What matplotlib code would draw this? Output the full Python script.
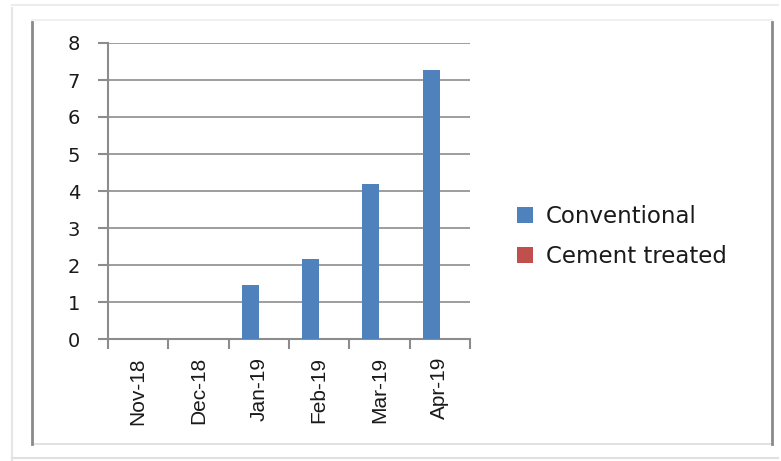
import matplotlib.pyplot as plt
import numpy as np
from matplotlib.lines import Line2D

months = ["Nov-18", "Dec-18", "Jan-19", "Feb-19", "Mar-19", "Apr-19"]
conventional = [0, 0, 1.45, 2.17, 4.2, 7.27]
cement_treated = [0, 0, 0, 0, 0, 0]

W, H = 781, 461
fig = plt.figure(figsize=(W / 100, H / 100), dpi=100)
plt.rcParams["font.family"] = ["DejaVu Sans"]


def px(x0, y0, x1, y1):
    return [x0 / W, 1 - y1 / H, (x1 - x0) / W, (y1 - y0) / H]


# frame around the chart (inner with darker sides, faint outer)
fig.add_artist(Line2D([12 / W, 12 / W], [1 - 8 / H, 1 - 460 / H], color="#e6e6e6", lw=1.5))
fig.add_artist(Line2D([12 / W, 778 / W], [1 - 5 / H, 1 - 5 / H], color="#ececec", lw=1.5))
fig.add_artist(Line2D([12 / W, 778 / W], [1 - 458 / H, 1 - 458 / H], color="#e0e0e0", lw=1.5))
fig.add_artist(Line2D([32 / W, 772 / W], [1 - 20 / H, 1 - 20 / H], color="#ececec", lw=1.2))
fig.add_artist(Line2D([32 / W, 772 / W], [1 - 444 / H, 1 - 444 / H], color="#dcdcdc", lw=1.2))
fig.add_artist(Line2D([32 / W, 32 / W], [1 - 22 / H, 1 - 444 / H], color="#8a8a8a", lw=2))
fig.add_artist(Line2D([772 / W, 772 / W], [1 - 22 / H, 1 - 444 / H], color="#8a8a8a", lw=2))

ax = fig.add_axes(px(108, 43, 470, 339))
x = np.arange(len(months))
bw = 1 / 3.5
ax.bar(x - bw / 2, conventional, bw, color="#4f81bd", label="Conventional", zorder=3)
ax.bar(x + bw / 2, cement_treated, bw, color="#c0504d", label="Cement treated", zorder=3)

ax.set_xlim(-0.5, len(months) - 0.5)
ax.set_ylim(0, 8)
ax.set_yticks(range(0, 9))
ax.yaxis.grid(True, color="#8c8c8c", lw=1.2, zorder=0)
for s in ["top", "right"]:
    ax.spines[s].set_visible(False)
for s in ["left", "bottom"]:
    ax.spines[s].set_color("#8c8c8c")
    ax.spines[s].set_linewidth(1.5)

ax.set_xticks(np.arange(len(months) + 1) - 0.5, minor=False)
ax.set_xticklabels([])
ax.set_xticks(x, minor=True)
ax.set_xticklabels(months, minor=True, rotation=90, fontsize=15, color="#1a1a1a",
                   family=["Liberation Sans Narrow", "Liberation Sans", "DejaVu Sans"])
ax.tick_params(axis="x", which="major", length=7, color="#8c8c8c", width=1.5)
ax.tick_params(axis="x", which="minor", length=0, pad=13)
ax.tick_params(axis="y", length=7, color="#8c8c8c", width=1.5, labelsize=14, pad=13,
               labelcolor="#1a1a1a")

ax.legend(loc="upper left", bbox_to_anchor=(517 / W, 1 - 205 / H),
          bbox_transform=fig.transFigure, frameon=False, borderpad=0, borderaxespad=0,
          fontsize=16.5, handlelength=0.7, handleheight=0.7, handletextpad=0.55,
          labelspacing=0.75, labelcolor="#1a1a1a")

fig.savefig("out.png", dpi=100)
